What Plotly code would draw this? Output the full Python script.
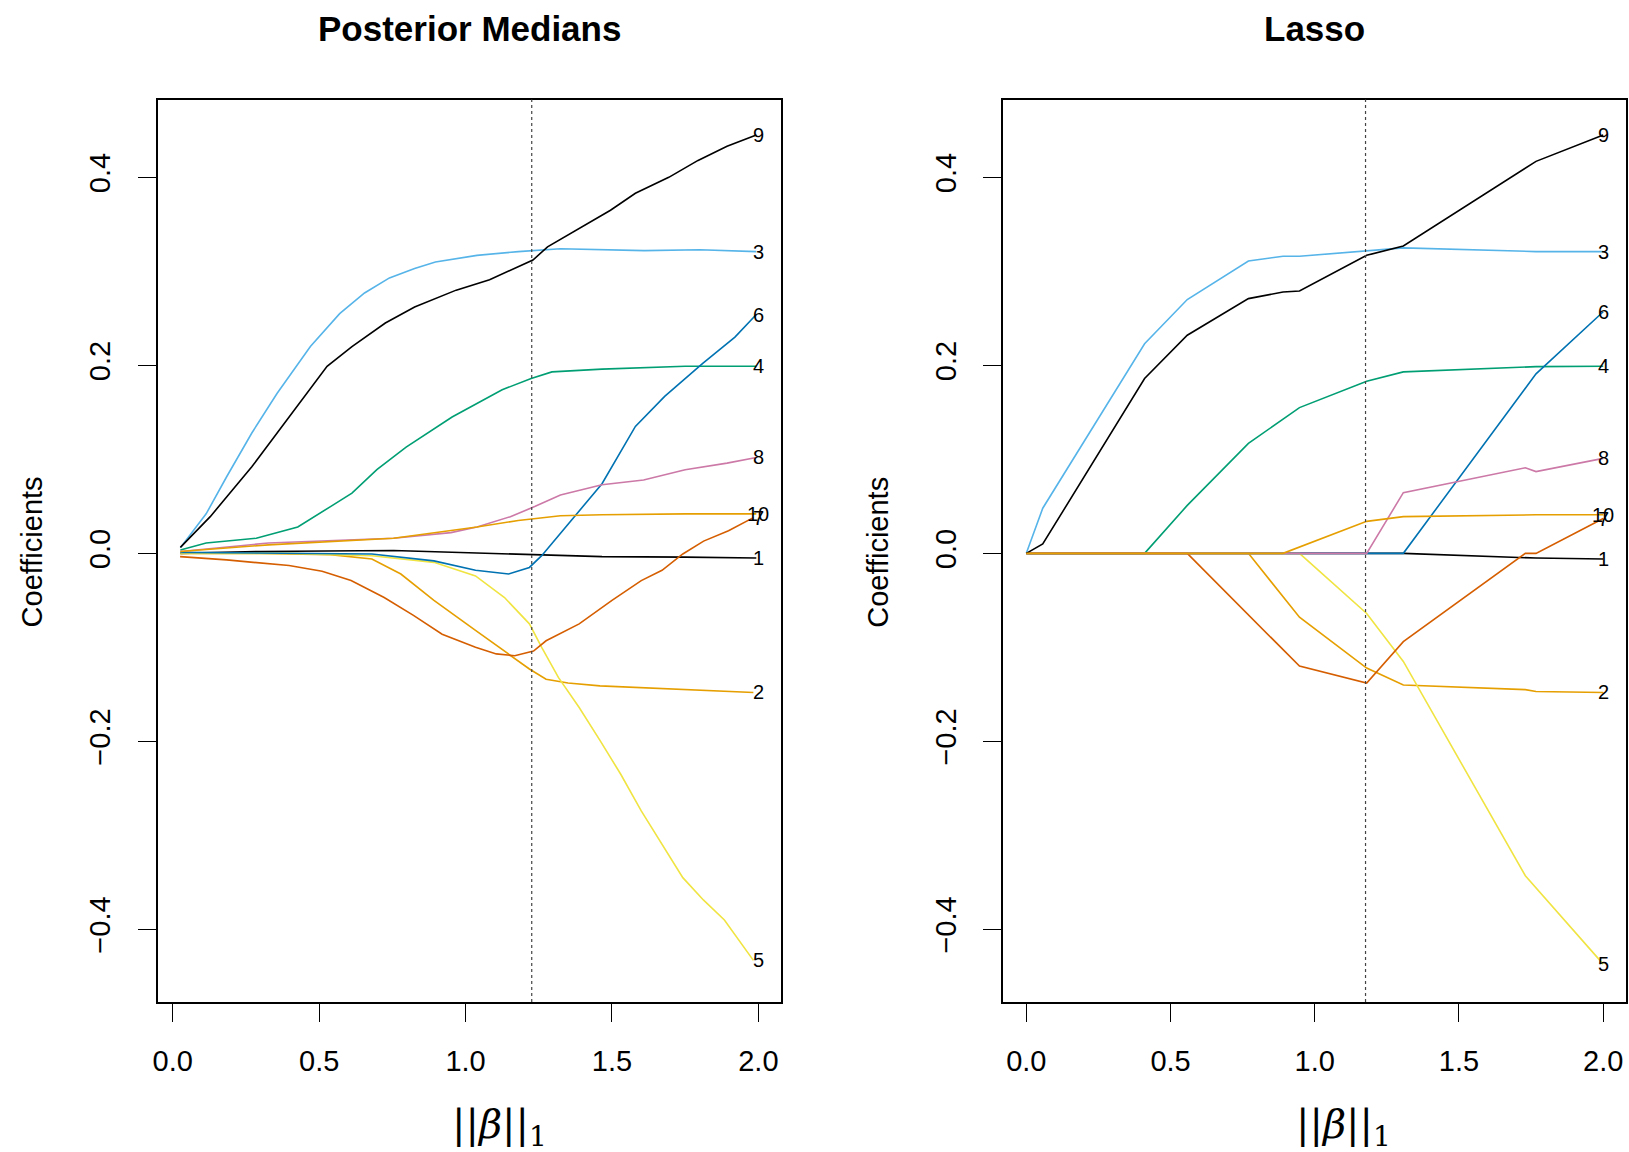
import plotly.graph_objects as go

W, H = 1629, 1152

# ---------------- data: Posterior Medians (left) ----------------
pm = {
    "1": ([0.026, 0.30, 0.754, 1.0, 1.224, 1.466, 1.75, 1.993],
          [0.0, 0.002, 0.003, 0.001, -0.001, -0.0035, -0.004, -0.005]),
    "2": ([0.026, 0.30, 0.538, 0.68, 0.779, 0.892, 1.034, 1.133, 1.218, 1.275, 1.35, 1.459, 1.6, 1.742, 1.983],
          [0.0, 0.0, -0.0014, -0.006, -0.022, -0.05, -0.082, -0.104, -0.123, -0.134, -0.138, -0.141, -0.143, -0.145, -0.148]),
    "3": ([0.026, 0.114, 0.185, 0.27, 0.356, 0.47, 0.57, 0.655, 0.74, 0.826, 0.897, 1.039, 1.18, 1.324, 1.61, 1.8, 1.993],
          [0.006, 0.042, 0.082, 0.128, 0.17, 0.22, 0.255, 0.277, 0.293, 0.303, 0.31, 0.317, 0.321, 0.324, 0.322, 0.323, 0.321]),
    "4": ([0.026, 0.114, 0.285, 0.427, 0.54, 0.612, 0.697, 0.797, 0.954, 1.125, 1.224, 1.295, 1.466, 1.75, 1.993],
          [0.0035, 0.011, 0.016, 0.028, 0.05, 0.064, 0.089, 0.113, 0.145, 0.174, 0.186, 0.193, 0.196, 0.199, 0.199]),
    "5": ([0.026, 0.40, 0.68, 0.892, 1.034, 1.133, 1.218, 1.26, 1.317, 1.388, 1.459, 1.53, 1.6, 1.671, 1.742, 1.813, 1.884, 1.983],
          [0.0, 0.0, -0.0025, -0.0096, -0.024, -0.047, -0.075, -0.1, -0.132, -0.164, -0.199, -0.235, -0.274, -0.309, -0.345, -0.369, -0.39, -0.433]),
    "6": ([0.026, 0.40, 0.612, 0.68, 0.892, 1.034, 1.147, 1.218, 1.26, 1.324, 1.466, 1.58, 1.68, 1.81, 1.92, 1.993],
          [0.001, 0.0, 0.0, -0.0007, -0.008, -0.018, -0.022, -0.015, -0.0025, 0.021, 0.074, 0.135, 0.167, 0.202, 0.23, 0.254]),
    "7": ([0.025, 0.184, 0.397, 0.51, 0.609, 0.722, 0.822, 0.92, 1.034, 1.105, 1.168, 1.232, 1.275, 1.388, 1.5, 1.6, 1.671, 1.742, 1.813, 1.898, 1.983],
          [-0.0035, -0.007, -0.013, -0.019, -0.029, -0.047, -0.066, -0.086, -0.1, -0.107, -0.109, -0.104, -0.093, -0.075, -0.05, -0.029, -0.018, -0.0007, 0.013, 0.024, 0.038]),
    "8": ([0.026, 0.327, 0.754, 0.95, 1.039, 1.153, 1.238, 1.324, 1.466, 1.608, 1.75, 1.893, 1.993],
          [0.002, 0.011, 0.016, 0.022, 0.028, 0.039, 0.05, 0.062, 0.073, 0.078, 0.089, 0.096, 0.102]),
    "9": ([0.026, 0.128, 0.27, 0.413, 0.527, 0.612, 0.726, 0.826, 0.968, 1.082, 1.18, 1.23, 1.28, 1.38, 1.495, 1.58, 1.694, 1.794, 1.893, 1.993],
          [0.0064, 0.039, 0.092, 0.151, 0.199, 0.22, 0.245, 0.262, 0.28, 0.291, 0.305, 0.312, 0.326, 0.344, 0.365, 0.383, 0.40, 0.418, 0.433, 0.445]),
    "10": ([0.026, 0.327, 0.754, 1.039, 1.18, 1.324, 1.466, 1.75, 1.993],
           [0.002, 0.009, 0.016, 0.028, 0.035, 0.04, 0.041, 0.042, 0.042]),
}

# ---------------- data: Lasso (right) ----------------
lasso = {
    "1": ([0.0, 1.307, 1.767, 2.0], [0.0, 0.0, -0.005, -0.006]),
    "2": ([0.0, 0.77, 0.947, 1.18, 1.307, 1.73, 1.767, 2.0], [0.0, 0.0, -0.068, -0.122, -0.14, -0.145, -0.147, -0.148]),
    "3": ([0.0, 0.057, 0.41, 0.558, 0.77, 0.89, 0.947, 1.18, 1.307, 1.767, 2.0],
          [0.0, 0.048, 0.223, 0.27, 0.311, 0.316, 0.316, 0.322, 0.325, 0.321, 0.321]),
    "4": ([0.0, 0.41, 0.558, 0.77, 0.947, 1.18, 1.307, 1.767, 2.0], [0.0, 0.0, 0.051, 0.117, 0.155, 0.183, 0.193, 0.1986, 0.199]),
    "5": ([0.0, 0.947, 1.18, 1.307, 1.73, 2.0], [0.0, 0.0, -0.064, -0.115, -0.343, -0.437]),
    "6": ([0.0, 1.307, 1.767, 2.0], [0.0, 0.0, 0.191, 0.257]),
    "7": ([0.0, 0.558, 0.947, 1.18, 1.307, 1.73, 1.767, 2.0], [0.0, 0.0, -0.12, -0.138, -0.094, 0.0, 0.0, 0.037]),
    "8": ([0.0, 1.18, 1.307, 1.73, 1.767, 2.0], [0.0, 0.0, 0.0645, 0.091, 0.087, 0.101]),
    "9": ([0.0, 0.057, 0.41, 0.558, 0.77, 0.89, 0.947, 1.18, 1.307, 1.767, 2.0],
          [0.0, 0.0099, 0.186, 0.232, 0.271, 0.278, 0.279, 0.317, 0.327, 0.417, 0.445]),
    "10": ([0.0, 0.89, 1.18, 1.307, 1.767, 2.0], [0.0, 0.0, 0.034, 0.039, 0.041, 0.041]),
}

var_names = ["1", "2", "3", "4", "5", "6", "7", "8", "9", "10"]
colors = ["#000000", "#E69F00", "#56B4E9", "#009E73", "#F0E442",
          "#0072B2", "#D55E00", "#CC79A7", "#000000", "#E69F00"]

x_ticks = [0.0, 0.5, 1.0, 1.5, 2.0]
y_ticks = [-0.4, -0.2, 0.0, 0.2, 0.4]
vline_pm = 1.226
vline_lasso = 1.176
titles = ["Posterior Medians", "Lasso"]

# ---------------- layout geometry (pixels) ----------------
L1, R1 = 153.3, 778.3
L2, R2 = 1001.3, 1626.3
TOP, BOT = 99.5, 1002.0


def px(x):
    return x / W


def py(y):
    return 1 - y / H


fig = go.Figure()

for panel, data in enumerate([pm, lasso]):
    xa = "x" if panel == 0 else "x2"
    ya = "y" if panel == 0 else "y2"
    for name, col in zip(var_names, colors):
        xs, ys = data[name]
        fig.add_trace(go.Scatter(x=xs, y=ys, mode="lines", xaxis=xa, yaxis=ya,
                                 line=dict(color=col, width=1.6), showlegend=False,
                                 hoverinfo="skip"))
        fig.add_annotation(x=2.0, y=ys[-1], xref=xa, yref=ya, text=name,
                           showarrow=False, xanchor="center", yanchor="middle",
                           font=dict(family="Liberation Sans", size=20, color="black"))

axis_common = dict(showgrid=False, zeroline=False, showline=True, mirror=True,
                   linecolor="black", linewidth=1.5, ticks="outside", ticklen=18,
                   tickwidth=1.4, tickcolor="black",
                   tickfont=dict(family="Liberation Sans", size=29, color="black"))

fig.update_layout(
    width=W, height=H, margin=dict(l=0, r=0, t=0, b=0),
    plot_bgcolor="white", paper_bgcolor="white", showlegend=False,
    xaxis=dict(domain=[px(L1), px(R1)], range=[-0.051, 2.077], tickvals=x_ticks,
               tickformat=".1f", anchor="y", ticklabelstandoff=14, **axis_common),
    yaxis=dict(domain=[py(BOT), py(TOP)], range=[-0.4773, 0.4828], tickvals=y_ticks,
               tickformat=".1f", tickangle=-90, anchor="x", ticklabelstandoff=16, **axis_common),
    xaxis2=dict(domain=[px(L2), px(R2)], range=[-0.08, 2.08], tickvals=x_ticks,
                tickformat=".1f", anchor="y2", ticklabelstandoff=14, **axis_common),
    yaxis2=dict(domain=[py(BOT), py(TOP)], range=[-0.4773, 0.4828], tickvals=y_ticks,
                tickformat=".1f", tickangle=-90, anchor="x2", ticklabelstandoff=16, **axis_common),
)

# dotted vertical lines
for xv, xr, yr in [(vline_pm, "x", "y domain"), (vline_lasso, "x2", "y2 domain")]:
    fig.add_shape(type="line", x0=xv, x1=xv, y0=0, y1=1, xref=xr, yref=yr,
                  line=dict(color="#444444", width=1.2, dash="dot"))

# titles
for t, (l, r) in zip(titles, [(L1, R1), (L2, R2)]):
    fig.add_annotation(x=px((l + r) / 2), y=py(28), xref="paper", yref="paper",
                       text="<b>%s</b>" % t, showarrow=False, xanchor="center",
                       yanchor="middle", font=dict(family="Liberation Sans", size=35, color="black"))

# axis titles
for xc in [27.5, 875.5]:
    fig.add_annotation(x=px(xc), y=py(552), xref="paper", yref="paper", text="Coefficients",
                       textangle=-90, showarrow=False, xanchor="center", yanchor="middle",
                       font=dict(family="Liberation Sans", size=29, color="black"))
for xc in [496, 1343]:
    fig.add_annotation(x=px(xc), y=py(1127), xref="paper", yref="paper",
                       text="||<i>β</i>||<sub>1</sub>",
                       showarrow=False, xanchor="center", yanchor="middle",
                       font=dict(family="DejaVu Serif", size=40, color="black"))

fig.write_html("out.html", config={"displayModeBar": False},
               post_script="document.body.style.margin='0';document.body.style.overflow='hidden';")
